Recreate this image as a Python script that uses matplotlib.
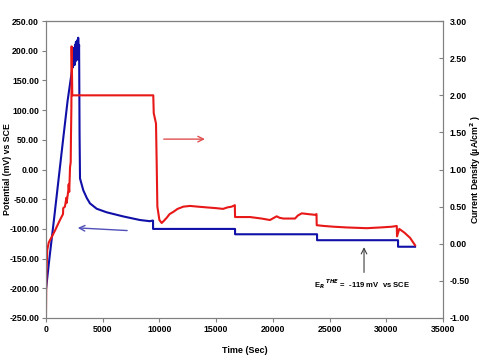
import numpy as np
import matplotlib
matplotlib.use('Agg')
import matplotlib.pyplot as plt

plt.rcParams['font.family'] = ['Liberation Sans', 'DejaVu Sans']
plt.rcParams['font.weight'] = 'bold'

# Potential (mV vs SCE), left axis
pot_time = [0, 300, 700, 1100, 1500, 1900, 2290,
            2320, 2360, 2400, 2440, 2480, 2520, 2560, 2600, 2640, 2680,
            2720, 2760, 2800, 2840, 2880, 2920,
            2960, 3000, 3290, 3600, 3880, 4470, 5350, 6820, 8290, 9170, 9380,
            9440, 16670, 16670, 23900, 23900, 31040, 31040, 32540]
pot_mv = [-202, -150, -85, -18, 49, 115, 167,
          185, 172, 200, 178, 205, 176, 210, 182, 215, 190,
          200, 218, 185, 222, 195, 210,
          60, -15, -35, -48, -57, -66, -72, -79, -85, -87, -86,
          -100, -100, -109, -109, -119, -119, -130, -130]
pot_mv_step = [9440]  # step from -86 to -100 at this time

# Current density (uA/cm2), right axis
cur_time = [0, 20, 50, 115, 250, 500, 800, 1230, 1500, 1520, 1670, 1800, 1820,
            1970, 2000, 2050, 2120, 2180, 2200, 2240, 2260, 2320,
            9460, 9500, 9700, 9760, 9820, 10000, 10200, 10400, 10640, 10900,
            11230, 11600, 12110, 12700, 13400, 14170, 15000, 15610, 16000,
            16370, 16650, 16670, 17200, 18000, 19000, 19750, 20100, 20340,
            20600, 20930, 21500, 21960, 22200, 22550, 23100, 23720, 23850,
            23870, 24500, 25340, 26500, 28280, 29500, 30500, 30930, 30950,
            31150, 31600, 32100, 32540]
cur_density = [-0.96, -0.60, -0.35, -0.08, 0.02, 0.09, 0.18, 0.32, 0.40, 0.48,
               0.50, 0.62, 0.55, 0.72, 0.80, 0.70, 1.03, 1.10, 1.40, 1.85,
               2.66, 2.00,
               2.00, 1.76, 1.62, 1.09, 0.50, 0.32, 0.28, 0.31, 0.35, 0.40,
               0.43, 0.47, 0.50, 0.51, 0.50, 0.49, 0.48, 0.47, 0.49,
               0.50, 0.52, 0.36, 0.36, 0.36, 0.34, 0.32, 0.35, 0.37,
               0.35, 0.34, 0.34, 0.34, 0.38, 0.41, 0.40, 0.39, 0.40,
               0.25, 0.24, 0.23, 0.22, 0.21, 0.22, 0.23, 0.24, 0.10,
               0.20, 0.15, 0.08, -0.02]

# insert the small step before 9440
pt = list(pot_time)
pm = list(pot_mv)
i = pt.index(9440)
pt.insert(i, pot_mv_step[0])
pm.insert(i, pm[i - 1])

fig = plt.figure(figsize=(4.82, 3.64), dpi=100)
ax = fig.add_axes([0.0954, 0.1264, 0.8236, 0.8156])
ax2 = ax.twinx()

ax.plot(pt, pm, color='#1010a8', lw=1.5, zorder=3)
ax2.plot(cur_time, cur_density, color='#e81818', lw=1.5, zorder=2)

ax.set_xlim(0, 35000)
ax.set_ylim(-250, 250)
ax2.set_ylim(-1.0, 3.0)
ax.set_xticks(np.arange(0, 35001, 5000))
ax.set_yticks(np.arange(-250, 251, 50))
ax2.set_yticks(np.arange(-1.0, 3.01, 0.5))
ax.yaxis.set_major_formatter(matplotlib.ticker.FormatStrFormatter('%.2f'))
ax2.yaxis.set_major_formatter(matplotlib.ticker.FormatStrFormatter('%.2f'))

for a in (ax, ax2):
    for s in a.spines.values():
        s.set_color('#808080')
    a.tick_params(labelsize=6.3, colors='black', length=3, width=0.8, pad=2)
    a.tick_params(axis='both', color='#808080')
ax2.tick_params(axis='y', direction='in', pad=5)
ax.spines['top'].set_color('#404040')

ax.set_xlabel('Time (Sec)', fontsize=6.5, fontweight='bold', labelpad=9)
ax.set_ylabel('Potential (mV) vs SCE', fontsize=6.3, fontweight='bold')
ax.yaxis.set_label_coords(-0.086, 0.5)
ax2.set_ylabel('Current Density (\u00b5A/cm$^{2}$ )', fontsize=6.3,
               fontweight='bold')
ax2.yaxis.set_label_coords(1.064, 0.5)

# arrows
ax.annotate('', xy=(2560, -98), xytext=(7400, -103),
            arrowprops=dict(arrowstyle='->', color='#5050b8', lw=1.0))
ax2.annotate('', xy=(14260, 1.41), xytext=(10140, 1.41),
             arrowprops=dict(arrowstyle='->', color='#e05050', lw=1.0))
ax.annotate('', xy=(28040, -126), xytext=(28040, -178),
            arrowprops=dict(arrowstyle='->', color='#404040', lw=0.8))
ax.text(27860, -192, 'E$_R$ $^{THE}$ =  -119 mV  vs SCE', fontsize=5.5,
        fontweight='bold', ha='center', va='center')

fig.savefig('out.png', dpi=100)
